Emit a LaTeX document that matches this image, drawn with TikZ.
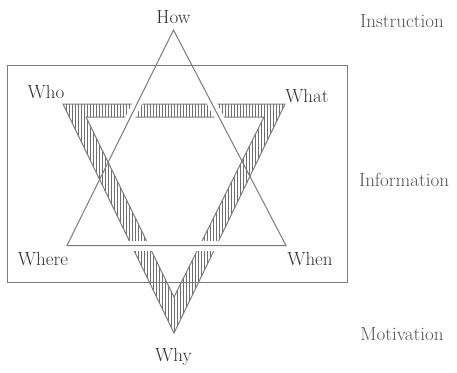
\documentclass[tikz,border=0pt]{standalone}
\usepackage{tikz}
\usetikzlibrary{patterns}
\definecolor{LineGrey}{HTML}{7A7A7A}
\definecolor{HatchGrey}{HTML}{6E6E6E}
\definecolor{TextDark}{HTML}{303030}
\definecolor{TextGrey}{HTML}{505050}

\begin{document}
\begin{tikzpicture}[x=1pt,y=-1pt,
  edge/.style={draw=LineGrey,line width=1pt},
  band/.style={pattern=vertical lines,pattern color=HatchGrey,even odd rule},
  gap/.style={draw=white,line width=9pt},
  wlbl/.style={font=\fontsize{19}{22}\selectfont,text=TextDark,inner sep=0pt},
  slbl/.style={wlbl,text=TextGrey}
]
  \useasboundingbox (0,0) rectangle (457,372);

  % Corners
  \coordinate (up) at (173.5,30);
  \coordinate (upl) at (67,245.5);
  \coordinate (upr) at (286,245.5);
  \coordinate (dnl) at (63,104);
  \coordinate (dnr) at (285,104);
  \coordinate (dn) at (174,333);
  \coordinate (inl) at (86,117);
  \coordinate (inr) at (264,117);
  \coordinate (in) at (174,297);

  % Hatched triangle
  \path[band] (dnl)--(dnr)--(dn)--cycle (inl)--(inr)--(in)--cycle;
  \draw[edge] (dnl)--(dnr)--(dn)--cycle;
  \draw[edge] (inl)--(inr)--(in)--cycle;

  % Breaks where the lines cross
  \begin{scope}
    \clip (50,99) rectangle (300,122);
    \draw[gap] (up)--(upl); \draw[gap] (up)--(upr);
  \end{scope}
  \begin{scope}
    \clip (100,233) rectangle (250,258);
    \draw[gap,line width=10pt] (upl)--(upr);
  \end{scope}

  % Frame and open triangle
  \draw[edge] (7,65) rectangle (347,282);
  \draw[edge] (up)--(upl)--(upr)--cycle;

  % Labels
  \node[wlbl] (how) at (173.5,17) {How};
  \node[wlbl] (who) at (46,92) {Who};
  \node[wlbl] (what) at (307,96) {What};
  \node[wlbl] (where) at (43,259) {Where};
  \node[wlbl] (when) at (310,259) {When};
  \node[wlbl] (why) at (173.5,357) {Why};
  \node[slbl] (instr) at (402,21) {Instruction};
  \node[slbl] (info) at (404,180) {Information};
  \node[slbl] (motiv) at (402,334) {Motivation};
\end{tikzpicture}
\end{document}
